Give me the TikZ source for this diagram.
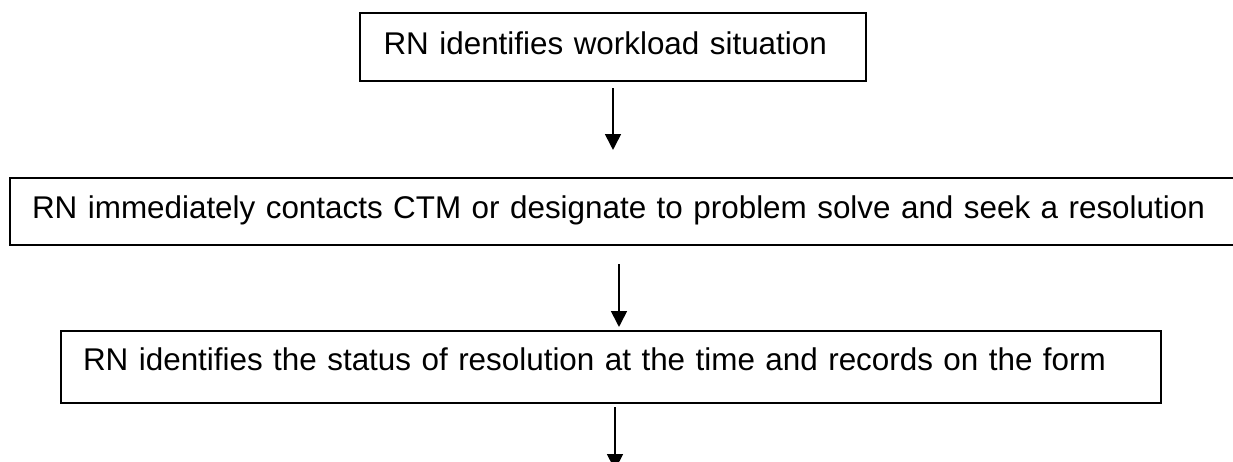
\documentclass[tikz,border=0pt]{standalone}
\usepackage{fontspec}
\setmainfont{Liberation Sans}
\usetikzlibrary{arrows.meta, positioning}

\begin{document}
\begin{tikzpicture}[x=0.01cm,y=-0.01cm,
        box/.style={draw,line width=0.6pt,anchor=north west,align=left,
            font=\fontsize{8.93}{10.5}\selectfont,inner ysep=0pt,
            text height=0.23cm,text depth=0.09cm},
        flow/.style={-{Triangle[width=4.5pt,length=4.5pt]},line width=0.5pt}]
        \useasboundingbox (0,0) rectangle (1233,462);
        \node[box,minimum width=5.06cm,minimum height=0.68cm,inner xsep=0.235cm,text width=4.59cm] (id) at (359,12) {RN identifies workload situation};
        \node[box,minimum width=12.4cm,minimum height=0.67cm,inner xsep=0.22cm,text width=11.96cm] (contact) at (9,177) {RN immediately contacts CTM or designate to problem solve and seek a resolution};
        \node[box,minimum width=10.99cm,minimum height=0.72cm,inner xsep=0.22cm,text width=10.55cm,text depth=0.16cm] (status) at (60,330) {RN identifies the status of resolution at the time and records on the form};

        \coordinate (a1) at (613,0);
        \coordinate (a2) at (619,0);
        \coordinate (a3) at (615,0);
        \coordinate (next) at (615,470);

        \draw[flow,shorten <=0.06cm,shorten >=0.27cm] (id.south -| a1) -- (contact.north -| a1);
        \draw[flow,shorten <=0.18cm,shorten >=0.03cm] (contact.south -| a2) -- (status.north -| a2);
        \draw[flow,shorten <=0.03cm] (status.south -| a3) -- (next);
\end{tikzpicture}
\end{document}
